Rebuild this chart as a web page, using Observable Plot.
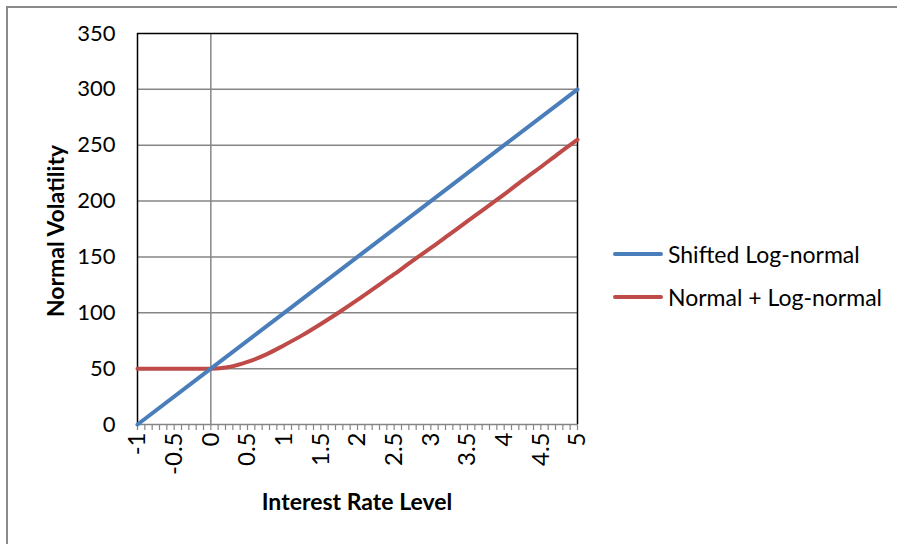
<!DOCTYPE html>
<html>
<head>
<meta charset="utf-8">
<script src="https://cdn.jsdelivr.net/npm/d3@7"></script>
<script src="https://cdn.jsdelivr.net/npm/@observablehq/plot@0.6"></script>
<style>
  html, body { margin: 0; padding: 0; background: #fff; overflow: hidden; }
  #wrap { position: relative; width: 897px; height: 544px; font-family: Lato, "Open Sans", sans-serif; }
  #border { position: absolute; left: 6px; top: 6px; width: 900px; height: 600px; border: 2px solid #8a8a8a; box-sizing: border-box; }
  #chart { position: absolute; left: 0; top: 0; }
  .title { position: absolute; font-weight: bold; font-size: 23px; color: #000; white-space: nowrap; }
  #xtitle { left: 357px; top: 501px; transform: translate(-50%, -50%); }
  #ytitle { left: 55px; top: 231px; transform: translate(-50%, -50%) rotate(-90deg); }
  #legend { position: absolute; left: 613px; top: 238px; font-size: 23px; }
  .item { display: flex; align-items: center; height: 32px; margin-bottom: 11px; white-space: nowrap; }
  .swatch { width: 50px; height: 4px; border-radius: 2px; margin-right: 5px; }
</style>
</head>
<body>
<div id="wrap">
  <div id="border"></div>
  <div id="chart"></div>
  <div class="title" id="xtitle">Interest Rate Level</div>
  <div class="title" id="ytitle">Normal Volatility</div>
  <div id="legend"></div>
</div>
<script>
// Series names
const seriesNames = ["Shifted Log-normal", "Normal + Log-normal"];
const seriesColors = ["#4a7ebb", "#be4b48"];

// Shifted Log-normal
const blueX = [-1, 0, 1, 2, 3, 4, 5];
const blueY = [0, 50, 100, 150, 200, 250, 300];

// Normal + Log-normal
const redX = [-1, -0.5, 0, 0.25, 0.5, 0.75, 1, 1.25, 1.5, 1.75, 2, 2.25, 2.5, 2.75, 3, 3.25, 3.5, 3.75, 4, 4.25, 4.5, 4.75, 5];
const redY = [50, 50, 50, 51.5, 56, 62.5, 71, 80, 90, 100.5, 111.5, 123, 134.5, 146.5, 158, 170, 182, 194, 206, 218.5, 230.5, 243, 255];

// Axis ticks
const xLabelTicks = [-1, -0.5, 0, 0.5, 1, 1.5, 2, 2.5, 3, 3.5, 4, 4.5, 5];
const xMinorTicks = d3.range(-10, 51).map(d => d / 10);
const yTicks = [0, 50, 100, 150, 200, 250, 300, 350];
const yGrid = [50, 100, 150, 200, 250, 300];

const blue = blueX.map((x, i) => ({x, y: blueY[i], s: seriesNames[0]}));
const red = redX.map((x, i) => ({x, y: redY[i], s: seriesNames[1]}));

const plot = Plot.plot({
  width: 897,
  height: 544,
  marginLeft: 137,
  marginRight: 320,
  marginTop: 33,
  marginBottom: 120,
  style: {fontFamily: "Lato, 'Open Sans', sans-serif", fontSize: "22px", color: "#000", background: "transparent"},
  x: {domain: [-1, 5], label: null},
  y: {domain: [0, 350], label: null},
  marks: [
    Plot.ruleY(yGrid, {stroke: "#868686", strokeWidth: 1.5}),
    Plot.ruleX([0], {stroke: "#868686", strokeWidth: 1.5}),
    Plot.ruleY([350], {stroke: "#000", strokeWidth: 1.5}),
    Plot.ruleX([-1, 5], {stroke: "#000", strokeWidth: 1.5}),
    Plot.ruleY([0], {stroke: "#868686", strokeWidth: 1.5}),
    Plot.axisX({ticks: xMinorTicks, tickSize: 6, tickFormat: () => "", label: null, stroke: "#868686", strokeWidth: 1.2}),
    Plot.axisX({ticks: xLabelTicks, tickSize: 0, tickPadding: 8, tickRotate: -90, tickFormat: d => String(d), label: null, fill: "#000", fontSize: 24}),
    Plot.axisY({ticks: yTicks, tickSize: 0, tickPadding: 22, label: null, fill: "#000", fontSize: 22}),
    Plot.line(red, {x: "x", y: "y", stroke: seriesColors[1], strokeWidth: 4, curve: "monotone-x"}),
    Plot.line(blue, {x: "x", y: "y", stroke: seriesColors[0], strokeWidth: 4})
  ]
});
document.getElementById("chart").appendChild(plot);

const legend = document.getElementById("legend");
seriesNames.forEach((name, i) => {
  const item = document.createElement("div");
  item.className = "item";
  const sw = document.createElement("div");
  sw.className = "swatch";
  sw.style.background = seriesColors[i];
  const t = document.createElement("span");
  t.textContent = name;
  item.appendChild(sw);
  item.appendChild(t);
  legend.appendChild(item);
});
</script>
</body>
</html>
